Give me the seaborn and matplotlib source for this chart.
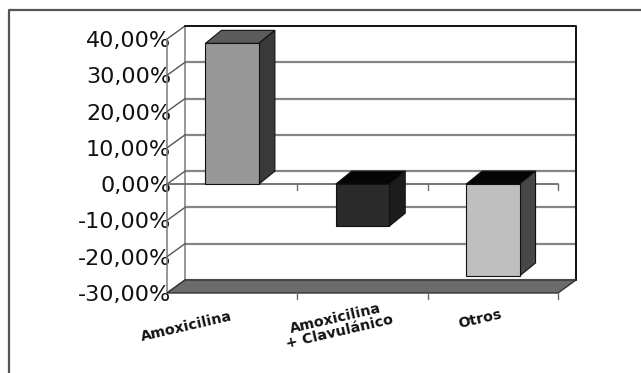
import matplotlib
matplotlib.use("Agg")
import matplotlib.pyplot as plt
from matplotlib.patches import Polygon
from matplotlib.lines import Line2D
from matplotlib.transforms import ScaledTranslation
import seaborn as sns

# Chart data
categories = ["Amoxicilina", "Amoxicilina\n+ Clavulánico", "Otros"]
values = [38.8, -11.6, -25.3]
y_ticks = [-30, -20, -10, 0, 10, 20, 30, 40]
y_tick_labels = ["-30,00%", "-20,00%", "-10,00%", "0,00%",
                 "10,00%", "20,00%", "30,00%", "40,00%"]

# Bar shading (front, top, side)
front_colors = ["#979797", "#2b2b2b", "#bfbfbf"]
top_colors = ["#5c5c5c", "#050505", "#050505"]
side_colors = ["#3a3a3a", "#1c1c1c", "#474747"]

sns.set_style("white")
plt.rcParams["font.family"] = ["DejaVu Sans"]

W, H, DPI = 641, 373, 100
fig = plt.figure(figsize=(W / DPI, H / DPI), dpi=DPI)
fig.patch.set_facecolor("white")

# front plane of the 3-D box
ax = fig.add_axes([167 / W, 80 / H, 391 / W, 254 / H])
sns.barplot(x=categories, y=values, hue=categories, palette=front_colors,
            saturation=1, width=0.41, edgecolor="#111111", linewidth=0.8,
            legend=False, ax=ax, zorder=5)
bars = list(ax.patches)
ax.set_xlim(-0.5, 2.5)
ax.set_ylim(y_ticks[0], y_ticks[-1])
for s in ax.spines.values():
    s.set_visible(False)
ax.set_facecolor("none")
ax.set_xticks([])
ax.set_xlabel("")
ax.set_yticks(y_ticks)
ax.set_yticklabels(y_tick_labels, fontsize=16, color="#111111")
ax.tick_params(axis="y", length=0, pad=-3)
for t in ax.get_yticklabels():
    t.set_zorder(20)

# pixel -> data conversion for the depth offsets
p0 = ax.transData.transform((0, 0))
p1 = ax.transData.transform((1, 1))
sx, sy = p1[0] - p0[0], p1[1] - p0[1]


def shifted(x, y, depth):
    return (x + depth[0] / sx, y + depth[1] / sy)


wall_depth = (18, 13)
bar_depth = (16, 13)
x0, x1 = ax.get_xlim()
y0, y1 = ax.get_ylim()
grid_c = "#858585"

# back wall
bl = shifted(x0, y0, wall_depth)
tr = shifted(x1, y1, wall_depth)
ax.add_patch(Polygon([bl, (tr[0], bl[1]), tr, (bl[0], tr[1])], closed=True,
                     facecolor="white", edgecolor="none", clip_on=False, zorder=0))
for v in y_ticks[:-1]:
    a = shifted(x0, v, wall_depth)
    b = shifted(x1, v, wall_depth)
    ax.plot([a[0], b[0]], [a[1], b[1]], color=grid_c, lw=1.6, clip_on=False, zorder=1)
ax.plot([bl[0], bl[0]], [bl[1], tr[1]], color=grid_c, lw=1.2, clip_on=False, zorder=1)
ax.plot([bl[0], tr[0], tr[0]], [tr[1], tr[1], bl[1]], color="#111111", lw=1.4,
        clip_on=False, zorder=2)

# side wall: front axis and diagonals
ax.plot([x0, x0], [y0, y1], color=grid_c, lw=1.2, clip_on=False, zorder=1)
for v in y_ticks:
    b = shifted(x0, v, wall_depth)
    ax.plot([x0, b[0]], [v, b[1]], color="#555555", lw=1.0, clip_on=False, zorder=1)

# floor
fb = shifted(x0, y0, wall_depth)
fr = shifted(x1, y0, wall_depth)
ax.add_patch(Polygon([(x0, y0), (x1, y0), fr, fb], closed=True,
                     facecolor="#6b6b6b", edgecolor="#333333", lw=1.0,
                     clip_on=False, zorder=3))

# zero line and category ticks on the front plane
tick_len = 6 / sy
ax.plot([x0, x1], [0, 0], color="#6a6a6a", lw=1.3, clip_on=False, zorder=3)
for xb in [0.5, 1.5, 2.5]:
    ax.plot([xb, xb], [0, -tick_len], color="#6a6a6a", lw=1.0, clip_on=False, zorder=3)
    ax.plot([xb, xb], [y0, y0 - tick_len], color="#6a6a6a", lw=1.0, clip_on=False, zorder=3)

# top and side faces of each bar
for i, patch in enumerate(bars):
    bx = patch.get_x()
    bw = patch.get_width()
    yb = patch.get_y()
    ht = patch.get_height()
    lo, hi = min(yb, yb + ht), max(yb, yb + ht)
    xr = bx + bw
    top = [(bx, hi), (xr, hi), shifted(xr, hi, bar_depth), shifted(bx, hi, bar_depth)]
    side = [(xr, lo), (xr, hi), shifted(xr, hi, bar_depth), shifted(xr, lo, bar_depth)]
    ax.add_patch(Polygon(top, closed=True, facecolor=top_colors[i], edgecolor="#111111",
                         lw=0.8, clip_on=False, zorder=4))
    ax.add_patch(Polygon(side, closed=True, facecolor=side_colors[i], edgecolor="#111111",
                         lw=0.8, clip_on=False, zorder=4))

# rotated category labels under the floor
label_offsets_px = [(-46, -34), (-25, -32), (-13, -26)]
for i, cat in enumerate(categories):
    dx, dy = label_offsets_px[i]
    tr_ = ax.transData + ScaledTranslation(dx / DPI, dy / DPI, fig.dpi_scale_trans)
    ax.text(i, y0, cat, transform=tr_, rotation=13, rotation_mode="anchor",
            ha="center", va="center", multialignment="center",
            fontsize=10.3, fontweight="bold", color="#111111", linespacing=1.0,
            clip_on=False, zorder=20)

# outer frame
fig.add_artist(Line2D([9 / W, 9 / W, 1.0], [0.0, (H - 10) / H, (H - 10) / H],
                      transform=fig.transFigure, color="#555555", lw=1.6))

fig.savefig("out.png", dpi=DPI, facecolor="white")
